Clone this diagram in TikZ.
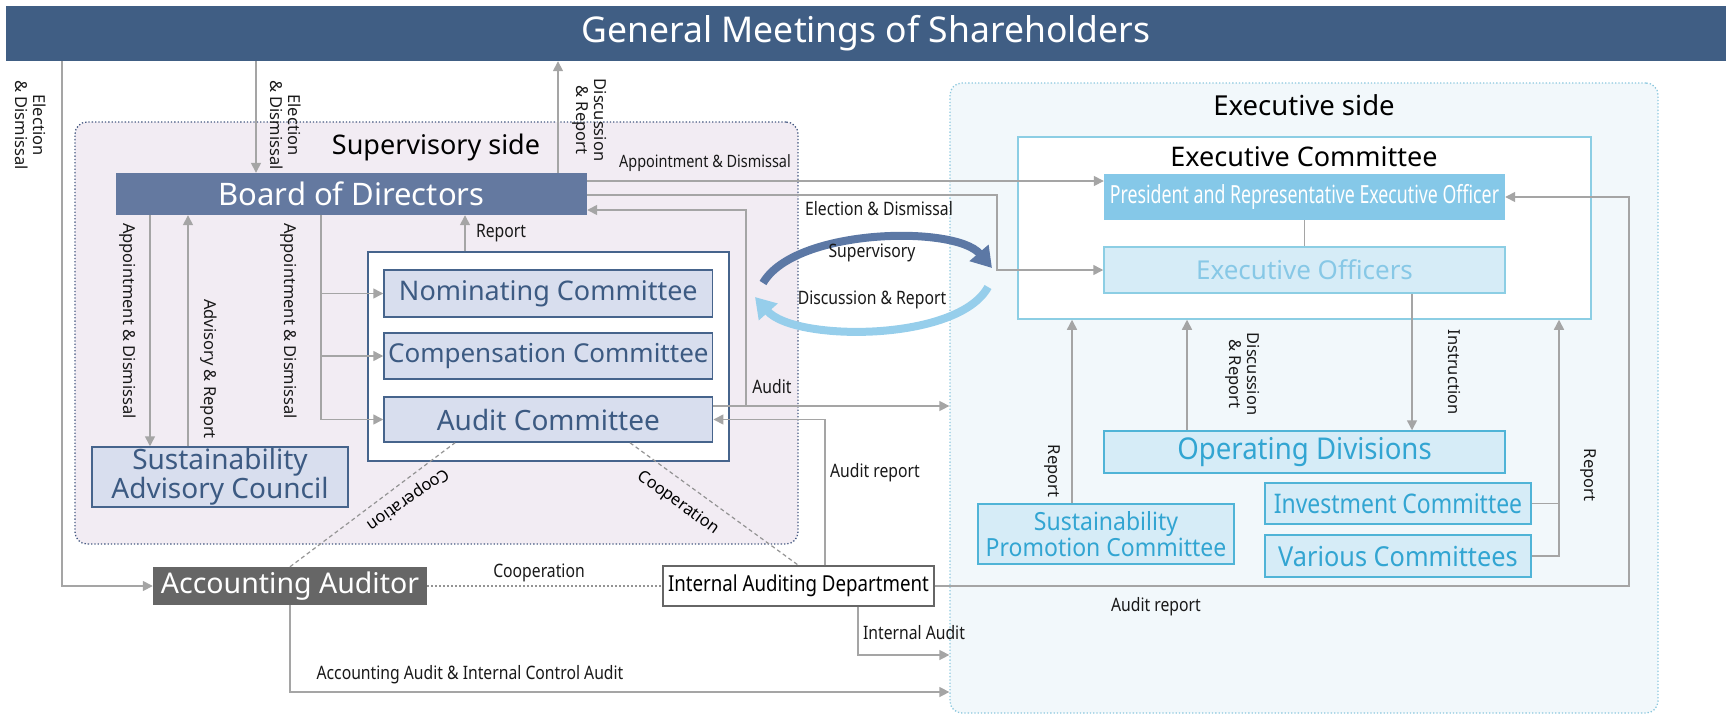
\documentclass[tikz,border=0pt]{standalone}
\usepackage{fontspec}
\setmainfont{Noto Sans}
\newfontfamily\cnd[FakeStretch=0.85]{Noto Sans}
\newfontfamily\cndb[FakeStretch=0.92]{Noto Sans}
\newfontfamily\cndp[FakeStretch=0.71]{Noto Sans}
\usetikzlibrary{arrows.meta}
\definecolor{banner}{RGB}{64,94,132}
\definecolor{boardc}{RGB}{100,121,160}
\definecolor{supfill}{RGB}{242,236,243}
\definecolor{supdot}{RGB}{70,90,130}
\definecolor{cmtfill}{RGB}{216,222,238}
\definecolor{cmtline}{RGB}{70,100,140}
\definecolor{cmttext}{RGB}{60,90,130}
\definecolor{exfill}{RGB}{242,248,251}
\definecolor{exdot}{RGB}{140,200,222}
\definecolor{ecline}{RGB}{140,206,228}
\definecolor{presc}{RGB}{133,200,232}
\definecolor{eofill}{RGB}{214,236,247}
\definecolor{eotext}{RGB}{135,200,230}
\definecolor{opline}{RGB}{80,180,215}
\definecolor{optext}{RGB}{50,165,210}
\definecolor{conn}{RGB}{165,165,165}
\definecolor{aafill}{RGB}{102,102,102}
\definecolor{darc}{RGB}{92,120,165}
\definecolor{larc}{RGB}{150,206,235}
\tikzset{
  arr/.style={draw=conn, line width=1.5pt, -{Triangle[length=10pt,width=10pt]}},
  ln/.style={draw=conn, line width=1.5pt},
  coop/.style={draw=conn!90!black, line width=1.2pt, dash pattern=on 4pt off 3pt},
  coopdot/.style={draw=conn!90!black, line width=1.2pt, dash pattern=on 1.5pt off 2.5pt},
  lbl/.style={font=\cnd\fontsize{18.5}{20}\selectfont, text=black!90, inner sep=1pt},
  vlbl/.style={font=\fontsize{16.5}{18}\selectfont, text=black!90, rotate=-90, align=center, inner sep=1pt},
  cmt/.style={draw=cmtline, fill=cmtfill, line width=1.5pt, text=cmttext, inner sep=0pt},
  exb/.style={draw=opline, fill=eofill, line width=1.5pt, text=optext, inner sep=0pt},
}
\begin{document}
\begin{tikzpicture}[x=1pt,y=-1pt]
\useasboundingbox (0,0) rectangle (1729,715);
% regions
\node[draw=supdot, fill=supfill, dotted, line width=1.3pt, rounded corners=12pt, minimum width=723pt, minimum height=422pt, inner sep=0pt] (sup) at (436.5,333) {};
\node[draw=exdot, fill=exfill, dotted, line width=1.3pt, rounded corners=12pt, minimum width=708pt, minimum height=630pt, inner sep=0pt] (ex) at (1304,398) {};
% banner
\node[fill=banner, minimum width=1720pt, minimum height=55pt, inner sep=0pt, text=white, font=\fontsize{35.5}{38}\selectfont] (banner) at (866,33.5) {General Meetings of Shareholders};
% supervisory side
\node[font=\fontsize{27}{30}\selectfont, inner sep=0pt] (suptitle) at (436,147) {Supervisory side};
\node[fill=boardc, minimum width=471pt, minimum height=42pt, inner sep=0pt, text=white, font=\fontsize{31}{33}\selectfont] (board) at (351.5,194) {Board of Directors};
\node[draw=cmtline, fill=white, line width=1.5pt, minimum width=361pt, minimum height=209pt, inner sep=0pt] (cbox) at (548.5,356.5) {};
\node[cmt, minimum width=328.7pt, minimum height=47pt, font=\fontsize{27}{29}\selectfont] (nom) at (548.35,293.5) {Nominating Committee};
\node[cmt, minimum width=328.7pt, minimum height=46pt, font=\fontsize{26}{28}\selectfont] (comp) at (548.35,356) {Compensation Committee};
\node[cmt, minimum width=328.7pt, minimum height=45pt, font=\fontsize{28}{30}\selectfont] (audit) at (548.35,419.5) {Audit Committee};
\node[cmt, minimum width=256pt, minimum height=60pt, align=center, font=\fontsize{28}{26}\selectfont] (sac) at (220,477) {Sustainability\\Advisory Council};
% bottom nodes
\node[fill=aafill, minimum width=274pt, minimum height=38pt, inner sep=0pt, text=white, font=\fontsize{28.5}{30}\selectfont] (aa) at (290,586) {Accounting Auditor};
\node[draw=black!60, fill=white, line width=1.3pt, minimum width=271pt, minimum height=40pt, inner sep=0pt, font=\cnd\fontsize{22}{24}\selectfont] (iad) at (798.5,586) {Internal Auditing Department};
% executive side
\node[font=\fontsize{27.5}{30}\selectfont, inner sep=0pt] (extitle) at (1304,105) {Executive side};
\node[draw=ecline, fill=white, line width=1.5pt, minimum width=573pt, minimum height=182pt, inner sep=0pt] (ec) at (1304.5,228) {};
\node[font=\fontsize{27}{30}\selectfont, inner sep=0pt] (ectitle) at (1304,157) {Executive Committee};
\node[fill=presc, minimum width=401pt, minimum height=46pt, inner sep=0pt, text=white, font=\cndp\fontsize{25}{27}\selectfont] (pres) at (1304.5,197) {President and Representative Executive Officer};
\node[draw=ecline, fill=eofill, line width=1.5pt, minimum width=401pt, minimum height=46pt, inner sep=0pt, text=eotext, font=\fontsize{26}{28}\selectfont] (eo) at (1304.5,270) {Executive Officers};
\node[exb, minimum width=401pt, minimum height=42pt, font=\cndb\fontsize{30}{32}\selectfont] (op) at (1304.5,452) {Operating Divisions};
\node[exb, minimum width=266pt, minimum height=41pt, font=\cnd\fontsize{27}{29}\selectfont] (inv) at (1398,503.5) {Investment Committee};
\node[exb, minimum width=266pt, minimum height=42pt, font=\cndb\fontsize{27.5}{29}\selectfont] (var) at (1398,556) {Various Committees};
\node[exb, minimum width=256pt, minimum height=60pt, align=center, font=\cndb\fontsize{25}{26}\selectfont] (spc) at (1106,534) {Sustainability\\Promotion Committee};
% connectors
\coordinate (auditjoin) at (746,406);
\draw[arr] (62,0 |- banner.south) -- (62,0 |- aa.west) -- (aa.west);
\draw[arr] (256,0 |- banner.south) -- (256,0 |- board.north);
\draw[arr] (558,0 |- board.north) -- (558,0 |- banner.south);
\draw[arr] (board.east |- 0,181) -- (pres.west |- 0,181);
\draw[arr] (board.east |- 0,195) -- (997,195) -- (997,0 |- eo.west) -- (eo.west);
\draw[arr] (audit.east |- auditjoin) -- (ex.west |- auditjoin);
\draw[arr] (auditjoin) -- (746,210) -- (board.east |- 0,210);
\draw[arr] (150,0 |- board.south) -- (150,0 |- sac.north);
\draw[arr] (188,0 |- sac.north) -- (188,0 |- board.south);
\draw[ln] (321,0 |- board.south) -- (321,0 |- audit.west);
\draw[arr] (321,0 |- nom.west) -- (nom.west);
\draw[arr] (321,0 |- comp.west) -- (comp.west);
\draw[arr] (321,0 |- audit.west) -- (audit.west);
\draw[arr] (465,0 |- cbox.north) -- (465,0 |- board.south);
\draw[arr] (825,0 |- iad.north) -- (825,0 |- audit.east) -- (audit.east);
\draw[arr] (858,0 |- iad.south) -- (858,655) -- (ex.west |- 0,655);
\draw[arr] (aa.south) -- (aa.south |- 0,692) -- (ex.west |- 0,692);
\draw[arr] (iad.east) -- (1629,0 |- iad.east) -- (1629,0 |- pres.east) -- (pres.east);
\draw[arr] (1072,0 |- spc.north) -- (1072,0 |- ec.south);
\draw[arr] (1187,0 |- op.north) -- (1187,0 |- ec.south);
\draw[arr] (1412,0 |- eo.south) -- (1412,0 |- op.north);
\draw[ln] (inv.east) -- (1559,0 |- inv.east);
\draw[arr] (var.east) -- (1559,0 |- var.east) -- (1559,0 |- ec.south);
\draw[ln] (pres.south) -- (eo.north);
\draw[coop] (aa.north) -- (455,0 |- audit.south);
\draw[coop] (630,0 |- audit.south) -- (iad.north);
\draw[coopdot] (aa.east) -- (iad.west);
% big arcs
\draw[darc, line width=8pt, -{Triangle[length=20pt,width=24pt]}] (763,283) .. controls (795,228) and (955,225) .. (992,268);
\draw[larc, line width=8pt, -{Triangle[length=20pt,width=24pt]}] (988,287) .. controls (958,342) and (795,342) .. (755,297);
% labels
\node[vlbl] (l1) at (31,125) {Election\\\& Dismissal};
\node[vlbl] (l2) at (286,125) {Election\\\& Dismissal};
\node[vlbl] (l3) at (590,120) {Discussion\\\& Report};
\node[vlbl] (l4) at (128,321) {Appointment \& Dismissal};
\node[vlbl] (l5) at (209,369) {Advisory \& Report};
\node[vlbl] (l6) at (289,321) {Appointment \& Dismissal};
\node[vlbl] (l7) at (1243,374) {Discussion\\\& Report};
\node[vlbl] (l8) at (1454,372) {Instruction};
\node[vlbl] (l9) at (1052,471) {Report};
\node[vlbl] (l10) at (1588,475) {Report};
\node[lbl, font=\cnd\fontsize{17}{19}\selectfont] (h1) at (705,163) {Appointment \& Dismissal};
\node[lbl] (h2) at (879,209) {Election \& Dismissal};
\node[lbl] (h3) at (872,253) {Supervisory};
\node[lbl] (h4) at (872,300) {Discussion \& Report};
\node[lbl] (h5) at (501,233) {Report};
\node[lbl] (h6) at (772,387) {Audit};
\node[lbl] (h7) at (875,473) {Audit report};
\node[lbl] (h8) at (539,573) {Cooperation};
\node[lbl] (h9) at (914,633) {Internal Audit};
\node[lbl] (h10) at (470,675) {Accounting Audit \& Internal Control Audit};
\node[lbl] (h11) at (1156,607) {Audit report};
\node[font=\fontsize{16.5}{18}\selectfont, rotate=215, inner sep=1pt] (c1) at (408,499) {Cooperation};
\node[font=\fontsize{16.5}{18}\selectfont, rotate=-36, inner sep=1pt] (c2) at (678,503) {Cooperation};
\end{tikzpicture}
\end{document}
